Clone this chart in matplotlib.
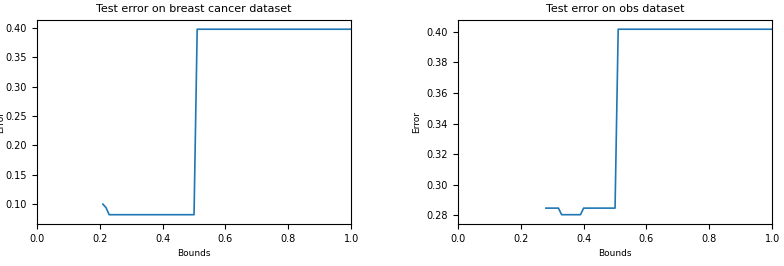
import matplotlib
matplotlib.use("Agg")
import matplotlib.pyplot as plt

# breast cancer test error vs bound
bc_bounds = [0.21, 0.22, 0.23, 0.50, 0.51, 1.0]
bc_error = [0.100, 0.094, 0.082, 0.082, 0.3975, 0.3975]

# obs dataset test error vs bound
obs_bounds = [0.28, 0.32, 0.33, 0.39, 0.40, 0.50, 0.51, 1.0]
obs_error = [0.2847, 0.2847, 0.2804, 0.2804, 0.2847, 0.2847, 0.4017, 0.4017]

plt.rcParams['font.size'] = 7

fig = plt.figure(figsize=(7.84, 2.66), dpi=100)
ax1 = fig.add_axes([0.047, 0.158, 0.401, 0.767])
ax2 = fig.add_axes([0.584, 0.158, 0.401, 0.767])

ax1.plot(bc_bounds, bc_error, color='#1f77b4', lw=1.2)
ax1.set_xlim(0, 1.0)
ax1.set_title("Test error on breast cancer dataset", fontsize=8)
ax1.set_xlabel("Bounds", fontsize=6.5)
ax1.set_ylabel("Error", fontsize=6.5, labelpad=0.5)

ax2.plot(obs_bounds, obs_error, color='#1f77b4', lw=1.2)
ax2.set_xlim(0, 1.0)
ax2.set_title("Test error on obs dataset", fontsize=8)
ax2.set_xlabel("Bounds", fontsize=6.5)
ax2.set_ylabel("Error", fontsize=6.5)

fig.savefig("out.png", dpi=100)
